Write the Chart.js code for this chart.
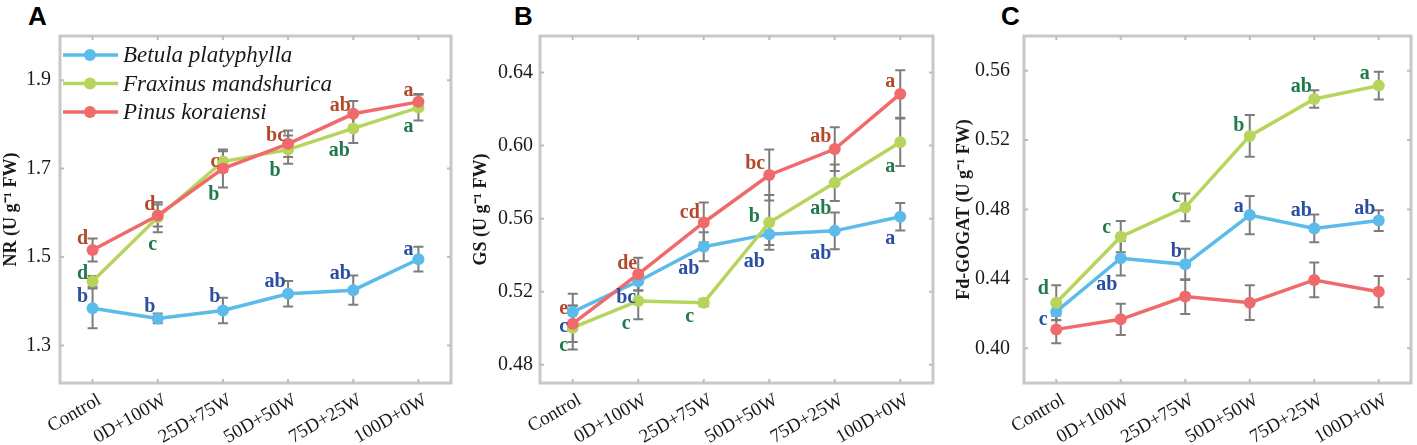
<!DOCTYPE html>
<html>
<head>
<meta charset="utf-8">
<script src="https://cdn.jsdelivr.net/npm/chart.js@4.4.1/dist/chart.umd.min.js"></script>
<style>
  body { margin: 0; background: #fff; width: 1417px; height: 445px; overflow: hidden; position: relative; }
  canvas { position: absolute; top: 0; }
  .tag { position: absolute; top: 3px; font: bold 26px/26px "Liberation Sans", Arial, sans-serif; color: #000; }
</style>
</head>
<body>
<div class="tag" style="left:28px">A</div>
<div class="tag" style="left:514px">B</div>
<div class="tag" style="left:1001px">C</div>
<canvas id="panelA" width="470" height="445" style="left:0px"></canvas>
<canvas id="panelB" width="470" height="445" style="left:470px"></canvas>
<canvas id="panelC" width="464" height="445" style="left:953px"></canvas>
<script>
const categories = ["Control", "0D+100W", "25D+75W", "50D+50W", "75D+25W", "100D+0W"];
const speciesNames = ["Betula platyphylla", "Fraxinus mandshurica", "Pinus koraiensi"];

// A - NR
const nrTicks = [1.3, 1.5, 1.7, 1.9];
const nrBetula = [1.384, 1.361, 1.379, 1.417, 1.425, 1.495];
const nrBetulaSd = [0.045, 0.011, 0.029, 0.029, 0.033, 0.028];
const nrFraxinus = [1.445, 1.590, 1.716, 1.743, 1.791, 1.838];
const nrFraxinusSd = [0.012, 0.034, 0.023, 0.032, 0.033, 0.029];
const nrPinus = [1.516, 1.594, 1.700, 1.756, 1.824, 1.851];
const nrPinusSd = [0.026, 0.025, 0.043, 0.030, 0.029, 0.018];
const nrBetulaLetters = ["b", "b", "b", "ab", "ab", "a"];
const nrFraxinusLetters = ["d", "c", "b", "b", "ab", "a"];
const nrPinusLetters = ["d", "d", "c", "bc", "ab", "a"];

// B - GS
const gsTicks = [0.48, 0.52, 0.56, 0.60, 0.64];
const gsBetula = [0.5089, 0.5257, 0.5446, 0.5515, 0.5533, 0.5610];
const gsBetulaSd = [0.010, 0.005, 0.008, 0.006, 0.010, 0.0075];
const gsFraxinus = [0.5003, 0.5149, 0.5140, 0.5579, 0.5797, 0.6018];
const gsFraxinusSd = [0.012, 0.010, 0.002, 0.015, 0.010, 0.013];
const gsPinus = [0.5025, 0.5296, 0.5579, 0.5839, 0.5981, 0.6283];
const gsPinusSd = [0.010, 0.009, 0.011, 0.014, 0.012, 0.013];
const gsBetulaLetters = ["c", "bc", "ab", "ab", "ab", "a"];
const gsFraxinusLetters = ["c", "c", "c", "b", "ab", "a"];
const gsPinusLetters = ["e", "de", "cd", "bc", "ab", "a"];

// C - Fd-GOGAT
const gogatTicks = [0.40, 0.44, 0.48, 0.52, 0.56];
const gogatBetula = [0.4211, 0.4519, 0.4484, 0.4768, 0.4691, 0.4736];
const gogatBetulaSd = [0.005, 0.010, 0.009, 0.011, 0.008, 0.006];
const gogatFraxinus = [0.4263, 0.4643, 0.4812, 0.5224, 0.5437, 0.5514];
const gogatFraxinusSd = [0.010, 0.009, 0.008, 0.012, 0.005, 0.008];
const gogatPinus = [0.4109, 0.4167, 0.4298, 0.4263, 0.4394, 0.4326];
const gogatPinusSd = [0.008, 0.009, 0.010, 0.010, 0.010, 0.009];
const gogatBetulaLetters = ["c", "ab", "b", "a", "ab", "ab"];
const gogatFraxinusLetters = ["d", "c", "c", "b", "ab", "a"];
const gogatPinusLetters = [];

// letter placement relative to each point (px)
const nrBetulaPos = [[-10,-11],[-8,-12],[-8,-14],[-13,-12],[-13,-16],[-10,-9]];
const nrFraxinusPos = [[-10,-8],[-5,28],[-9,33],[-13,21],[-14,22],[-10,19]];
const nrPinusPos = [[-10,-11],[-8,-11],[-8,-7],[-12,-8],[-13,-8],[-10,-11]];
const gsBetulaPos = [[-9,15],[-12,17],[-15,22],[-15,28],[-14,23],[-10,22]];
const gsFraxinusPos = [[-9,18],[-12,23],[-14,14],[-15,-6],[-14,26],[-10,25]];
const gsPinusPos = [[-9,-15],[-11,-10],[-14,-10],[-14,-11],[-14,-12],[-10,-12]];
const gogatBetulaPos = [[-13,8],[-14,27],[-9,-12],[-11,-8],[-13,-18],[-14,-12]];
const gogatFraxinusPos = [[-13,-14],[-14,-9],[-9,-11],[-11,-10],[-13,-12],[-14,-12]];

const lineColors = ["#5bbbea", "#b6d55a", "#f06a6c"];
const letterColors = ["#2b4f9f", "#1f7a4c", "#b5482a"];
const frameColor = "#c8c8c8";
const serif = "'Liberation Serif', 'Times New Roman', serif";

Chart.defaults.font.family = serif;
Chart.defaults.color = "#1a1a1a";

const panelDecor = {
    id: "panelDecor",
    beforeDatasetsDraw(chart, args, opts) {
        const ctx = chart.ctx;
        const a = chart.chartArea;
        const x = chart.scales.x, y = chart.scales.y;
        ctx.save();
        // frame with inner ticks
        ctx.strokeStyle = frameColor;
        ctx.lineWidth = 3;
        ctx.strokeRect(a.left, a.top, a.right - a.left, a.bottom - a.top);
        ctx.lineWidth = 2;
        ctx.strokeStyle = "#bdbdbd";
        opts.ticks.forEach(v => {
            const py = y.getPixelForValue(v);
            ctx.beginPath();
            ctx.moveTo(a.left, py); ctx.lineTo(a.left + 4, py);
            ctx.moveTo(a.right, py); ctx.lineTo(a.right - 4, py);
            ctx.stroke();
        });
        categories.forEach((c, i) => {
            const px = x.getPixelForValue(i);
            ctx.beginPath();
            ctx.moveTo(px, a.bottom); ctx.lineTo(px, a.bottom - 4);
            ctx.moveTo(px, a.top); ctx.lineTo(px, a.top + 4);
            ctx.stroke();
        });
        // error bars
        ctx.strokeStyle = "#7d7d7d";
        ctx.lineWidth = 2;
        chart.data.datasets.forEach(ds => {
            ds.sd.forEach((s, i) => {
                const px = x.getPixelForValue(i);
                const hi = y.getPixelForValue(ds.data[i] + s);
                const lo = y.getPixelForValue(ds.data[i] - s);
                ctx.beginPath();
                ctx.moveTo(px, hi); ctx.lineTo(px, lo);
                ctx.moveTo(px - 5, hi); ctx.lineTo(px + 5, hi);
                ctx.moveTo(px - 5, lo); ctx.lineTo(px + 5, lo);
                ctx.stroke();
            });
        });
        ctx.restore();
    },
    afterDraw(chart, args, opts) {
        const ctx = chart.ctx;
        const x = chart.scales.x, y = chart.scales.y;
        ctx.save();
        // significance letters
        ctx.font = "bold 20px " + serif;
        ctx.textAlign = "center";
        ctx.textBaseline = "middle";
        chart.data.datasets.forEach((ds, k) => {
            ctx.fillStyle = letterColors[k];
            ds.letters.forEach((t, i) => {
                const p = ds.letterPos[i];
                ctx.fillText(t, x.getPixelForValue(i) + p[0], y.getPixelForValue(ds.data[i]) + p[1]);
            });
        });
        // legend inside the plot (panel A only)
        if (opts.legend) {
            const a = chart.chartArea;
            ctx.font = "italic 23px " + serif;
            ctx.textAlign = "left";
            chart.data.datasets.forEach((ds, k) => {
                const ly = a.top + 19 + k * 28.5;
                ctx.strokeStyle = ds.borderColor;
                ctx.lineWidth = 3.5;
                ctx.beginPath();
                ctx.moveTo(a.left + 3, ly); ctx.lineTo(a.left + 58, ly);
                ctx.stroke();
                ctx.fillStyle = ds.borderColor;
                ctx.beginPath();
                ctx.arc(a.left + 30, ly, 6, 0, Math.PI * 2);
                ctx.fill();
                ctx.fillStyle = "#1a1a1a";
                ctx.fillText(ds.label, a.left + 63, ly + 1);
            });
        }
        ctx.restore();
    }
};

function makeDataset(k, values, sd, letters, pos) {
    return {
        label: speciesNames[k],
        data: values,
        sd: sd,
        letters: letters,
        letterPos: pos,
        borderColor: lineColors[k],
        backgroundColor: lineColors[k],
        pointBackgroundColor: lineColors[k],
        pointBorderWidth: 0,
        pointRadius: 6,
        borderWidth: 3.5,
        tension: 0,
        order: 3 - k
    };
}

function makePanel(id, cfg) {
    const ctx = document.getElementById(id).getContext("2d");
    return new Chart(ctx, {
        type: "line",
        data: { labels: categories, datasets: cfg.datasets },
        options: {
            responsive: false,
            animation: false,
            devicePixelRatio: 1,
            layout: { padding: { top: 36, right: cfg.padRight, left: 0, bottom: 0 } },
            plugins: {
                legend: { display: false },
                tooltip: { enabled: false },
                panelDecor: { ticks: cfg.ticks, legend: cfg.legend }
            },
            scales: {
                x: {
                    type: "category",
                    offset: true,
                    grid: { display: false, drawTicks: false },
                    border: { display: false },
                    ticks: { font: { family: serif, size: 19 }, minRotation: 30, maxRotation: 30, autoSkip: false, padding: 6, labelOffset: 7, color: "#1a1a1a" },
                    afterFit: s => { s.height = 62; }
                },
                y: {
                    min: cfg.min,
                    max: cfg.max,
                    grid: { display: false, drawTicks: false },
                    border: { display: false },
                    afterBuildTicks: s => { s.ticks = cfg.ticks.map(v => ({ value: v })); },
                    ticks: { font: { family: serif, size: 20 }, padding: cfg.tickPad, color: "#1a1a1a", callback: v => v.toFixed(cfg.decimals) },
                    title: { display: true, text: cfg.title, font: { family: serif, size: 18, weight: "bold" }, color: "#1a1a1a", padding: { top: 1, bottom: 0 } },
                    afterFit: s => { s.width = cfg.axisWidth; }
                }
            }
        },
        plugins: [panelDecor]
    });
}

makePanel("panelA", {
    datasets: [
        makeDataset(0, nrBetula, nrBetulaSd, nrBetulaLetters, nrBetulaPos),
        makeDataset(1, nrFraxinus, nrFraxinusSd, nrFraxinusLetters, nrFraxinusPos),
        makeDataset(2, nrPinus, nrPinusSd, nrPinusLetters, nrPinusPos)
    ],
    ticks: nrTicks, min: 1.215, max: 2.0, decimals: 1,
    title: "NR (U g\u207B\u00B9 FW)", axisWidth: 60, padRight: 19, tickPad: 9, legend: true
});

makePanel("panelB", {
    datasets: [
        makeDataset(0, gsBetula, gsBetulaSd, gsBetulaLetters, gsBetulaPos),
        makeDataset(1, gsFraxinus, gsFraxinusSd, gsFraxinusLetters, gsFraxinusPos),
        makeDataset(2, gsPinus, gsPinusSd, gsPinusLetters, gsPinusPos)
    ],
    ticks: gsTicks, min: 0.47, max: 0.66, decimals: 2,
    title: "GS (U g\u207B\u00B9 FW)", axisWidth: 70, padRight: 7, tickPad: 7, legend: false
});

makePanel("panelC", {
    datasets: [
        makeDataset(0, gogatBetula, gogatBetulaSd, gogatBetulaLetters, gogatBetulaPos),
        makeDataset(1, gogatFraxinus, gogatFraxinusSd, gogatFraxinusLetters, gogatFraxinusPos),
        makeDataset(2, gogatPinus, gogatPinusSd, gogatPinusLetters, [])
    ],
    ticks: gogatTicks, min: 0.38, max: 0.58, decimals: 2,
    title: "Fd-GOGAT (U g\u207B\u00B9 FW)", axisWidth: 71, padRight: 4, tickPad: 14, legend: false
});
</script>
</body>
</html>
